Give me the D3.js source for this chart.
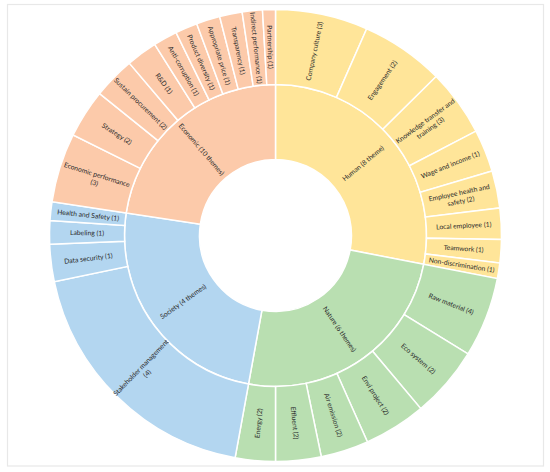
<!DOCTYPE html>
<html>
<head>
<meta charset="utf-8">
<script src="https://cdn.jsdelivr.net/npm/d3@7"></script>
<style>
  html, body { margin: 0; padding: 0; background: #fff; }
  #chart { width: 550px; height: 472px; }
  text { font-family: Lato, "Open Sans", sans-serif; fill: #2b2b2b; }
</style>
</head>
<body>
<div id="chart"></div>
<script>
// main themes, clockwise from 12 o'clock
const categories = ["Human (8 theme)", "Nature (6 themes)", "Society (4 themes)", "Economic (10 themes)"];
const categoryColors = ["#ffe599", "#b9dfb1", "#b3d6f0", "#fccaaa"];

// sub themes per category (label, share of the circle)
const humanThemes = ["Company culture (3)", "Engagement (2)", "Knowledge transfer and\ntraining (3)", "Wage and income (1)",
    "Employee health and\nsafety (2)", "Local employee (1)", "Teamwork (1)", "Non-discrimination (1)"];
const humanValues = [23.8, 21.5, 17.2, 10.9, 9.6, 8.0, 6.0, 4.0];

const natureThemes = ["Raw material (4)", "Eco system (2)", "Envi project (2)", "Air emission (2)", "Effluent (2)", "Energy (2)"];
const natureValues = [20.6, 18.4, 16.0, 12.3, 11.7, 10.3];

const societyThemes = ["Stakeholder management\n(4)", "Data security (1)", "Labeling (1)", "Health and Safety (1)"];
const societyValues = [67.9, 9.6, 6.0, 4.8];

const economicThemes = ["Economic performance\n(3)", "Strategy (2)", "Sustain procurement (2)", "R&D (1)", "Anti-corruption (1)",
    "Product diversity (1)", "Appropriate price (1)", "Transparency (1)", "Indirect performance (1)", "Partnership (1)"];
const economicValues = [17.8, 12.5, 10.8, 8.0, 6.2, 5.7, 6.1, 5.8, 5.2, 3.3];

const themeLists = [humanThemes, natureThemes, societyThemes, economicThemes];
const valueLists = [humanValues, natureValues, societyValues, economicValues];

const width = 550, height = 472;
const cx = 275.5, cy = 235.5;
const rHole = 76, rMid = 151, rOuter = 226;

const treeData = {
    name: "root",
    children: categories.map((c, i) => ({
        name: c,
        idx: i,
        children: themeLists[i].map((t, j) => ({name: t, value: valueLists[i][j], idx: i}))
    }))
};

const root = d3.hierarchy(treeData).sum(d => d.value || 0);
d3.partition().size([2 * Math.PI, 2])(root);

const radius = d3.scaleLinear().domain([1, 2]).range([rHole, rMid]);
const ringRadius = depth => depth === 1 ? [rHole, rMid] : [rMid, rOuter];

const arc = d3.arc()
    .startAngle(d => d.x0)
    .endAngle(d => d.x1)
    .innerRadius(d => ringRadius(d.depth)[0])
    .outerRadius(d => ringRadius(d.depth)[1]);

const svg = d3.select("#chart").append("svg")
    .attr("width", width)
    .attr("height", height);

// light frame around the picture
svg.append("rect")
    .attr("x", 7.5).attr("y", 4.5)
    .attr("width", 536).attr("height", 461.5)
    .attr("fill", "#fff")
    .attr("stroke", "#e8e8e8")
    .attr("stroke-width", 1.2);

const g = svg.append("g").attr("transform", `translate(${cx},${cy})`);

const nodes = root.descendants().filter(d => d.depth > 0);

g.selectAll("path")
    .data(nodes)
    .join("path")
    .attr("d", arc)
    .attr("fill", d => categoryColors[d.data.idx])
    .attr("stroke", "#fff")
    .attr("stroke-width", 1.5);

const fontSize = 6.8;
const labels = g.selectAll("g.label")
    .data(nodes)
    .join("g")
    .attr("class", "label")
    .attr("transform", d => {
        const a = (d.x0 + d.x1) / 2 * 180 / Math.PI;
        const rr = ringRadius(d.depth);
        const r = (rr[0] + rr[1]) / 2;
        const rot = a < 180 ? a - 90 : a - 270;
        return `rotate(${a - 90}) translate(${r},0) rotate(${rot - a + 90})`;
    });

labels.each(function(d) {
    const lines = d.data.name.split("\n");
    const t = d3.select(this).append("text")
        .attr("text-anchor", "middle")
        .attr("font-size", fontSize);
    lines.forEach((line, i) => {
        t.append("tspan")
            .attr("x", 0)
            .attr("y", (i - (lines.length - 1) / 2) * 8.6)
            .attr("dy", "0.35em")
            .text(line);
    });
});
</script>
</body>
</html>
